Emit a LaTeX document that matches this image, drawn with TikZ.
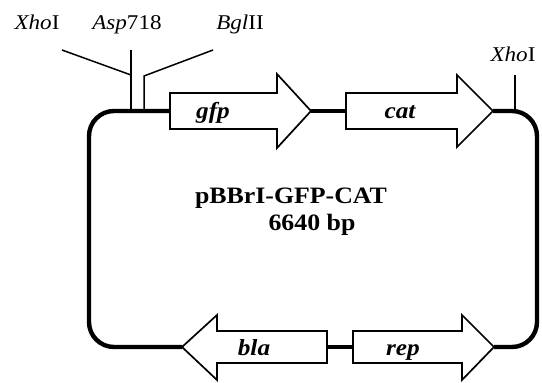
\documentclass[tikz,border=0pt]{standalone}
\usepackage{fontspec}
\setmainfont{Liberation Serif}
\newfontfamily\labfont[FakeStretch=1.1]{Liberation Serif}
\begin{document}
\begin{tikzpicture}[x=1pt,y=-1pt,
  backbone/.style={line width=4.4pt,rounded corners=25pt},
  gene/.style={draw=black,line width=1.7pt,fill=white,line join=miter},
  cutline/.style={line width=1.5pt},
  sitelabel/.style={font=\labfont\fontsize{21}{24}\selectfont,anchor=base,inner sep=0pt},
  genelabel/.style={font=\labfont\fontsize{23}{26}\selectfont\bfseries\itshape,anchor=base,inner sep=0pt},
  title/.style={font=\labfont\fontsize{23.5}{26}\selectfont\bfseries,anchor=base,inner sep=0pt}]
\useasboundingbox (0,0) rectangle (542,383);
% named coordinates for arrow ends
\coordinate (gfpT) at (170,111); \coordinate (gfpH) at (311,111);
\coordinate (catT) at (346,111); \coordinate (catH) at (493,111);
\coordinate (blaH) at (182,347); \coordinate (blaT) at (327,347);
\coordinate (repT) at (353,347); \coordinate (repH) at (494,347);
\coordinate (tl) at (89,111); \coordinate (bl) at (89,347);
\coordinate (tr) at (537,111); \coordinate (br) at (537,347);
% backbone
\draw[backbone] (gfpT) -- (tl) -- (bl) -- (blaH);
\draw[backbone] (repH) -- (br) -- (tr) -- (catH);
\draw[line width=4.4pt] (gfpH) -- (catT);
\draw[line width=4.4pt] (blaT) -- (repT);
% genes
\draw[gene] (170,93) -- (277,93) -- (277,74) -- (gfpH) -- (277,148) -- (277,129) -- (170,129) -- cycle;
\draw[gene] (346,93) -- (457,93) -- (457,75) -- (catH) -- (457,147) -- (457,129) -- (346,129) -- cycle;
\draw[gene] (327,331) -- (217,331) -- (217,315) -- (blaH) -- (217,380) -- (217,363) -- (327,363) -- cycle;
\draw[gene] (353,331) -- (462,331) -- (462,315) -- (repH) -- (462,380) -- (462,363) -- (353,363) -- cycle;
\node[genelabel] (gfp) at (213,118) {gfp};
\node[genelabel] (cat) at (400,118) {cat};
\node[genelabel] (bla) at (254,355) {bla};
\node[genelabel] (rep) at (403,355) {rep};
% restriction sites
\node[sitelabel] (xho1) at (37,29) {\textit{Xho}I};
\node[sitelabel] (asp) at (127,29) {\textit{Asp}718};
\node[sitelabel] (bgl) at (240,29) {\textit{Bgl}II};
\node[sitelabel] (xho2) at (513,61) {\textit{Xho}I};
\coordinate (c1) at (131,50); \coordinate (c1j) at (131,75); \coordinate (c1b) at (131,111);
\coordinate (x1) at (62,50);
\coordinate (b1) at (213,50); \coordinate (b1j) at (144,76); \coordinate (b1b) at (144,111);
\coordinate (x2) at (515,75); \coordinate (x2b) at (515,111);
\draw[cutline] (x1) -- (c1j);
\draw[cutline] (c1) -- (c1b);
\draw[cutline] (b1) -- (b1j) -- (b1b);
\draw[cutline] (x2) -- (x2b);
% title
\node[title] (name) at (291,203) {pBBrI-GFP-CAT};
\node[title] (size) at (312,230) {6640 bp};
\end{tikzpicture}
\end{document}
